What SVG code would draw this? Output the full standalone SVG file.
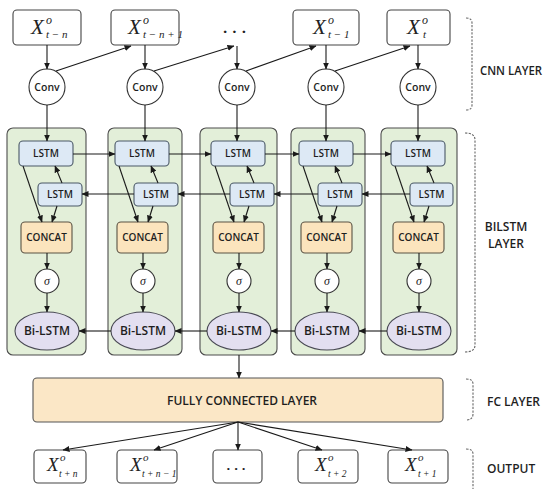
<svg xmlns="http://www.w3.org/2000/svg" width="550" height="489" viewBox="0 0 550 489">
<defs>
<marker id="ah" markerWidth="7" markerHeight="6" refX="6.5" refY="3" orient="auto" markerUnits="userSpaceOnUse">
<path d="M0,0 L7,3 L0,6 Z" fill="#1a1a1a"/>
</marker>
<style>
.box{fill:#fff;stroke:#444;stroke-width:1.1}
.panel{fill:#e3efd9;stroke:#4d4d4d;stroke-width:1.1}
.lstm{fill:#dde9f5;stroke:#4a5866;stroke-width:1.1}
.concat{fill:#fbe4bd;stroke:#5a5244;stroke-width:1.1}
.bi{fill:#e3dff0;stroke:#4a4a55;stroke-width:1.1}
.circ{fill:#fff;stroke:#333;stroke-width:1.1}
.fc{fill:#fbe7c6;stroke:#555;stroke-width:1.1}
.ln{stroke:#1a1a1a;stroke-width:1.1;fill:none;marker-end:url(#ah)}
.br{stroke:#666;stroke-width:1.1;fill:none;stroke-dasharray:2.2 1.4}
.s{font-family:"Open Sans","Liberation Sans",sans-serif;fill:#1e1e1e;text-anchor:middle;font-weight:600}
.lab{font-family:"Open Sans","Liberation Sans",sans-serif;fill:#1e1e1e;font-weight:600;font-size:12px}
.x{font-family:"Liberation Serif","DejaVu Serif",serif;font-style:italic;fill:#222}
</style>
</defs>
<rect width="550" height="489" fill="#fff"/>

<!-- inputs -->
<g id="in1"><rect class="box" x="13" y="10" width="68" height="35" rx="4"/>
<text class="x" x="31" y="34" font-size="21">X</text><text class="x" x="46" y="24" font-size="12">o</text><text class="x" x="46" y="38" font-size="11">t − n</text></g>
<g id="in2"><rect class="box" x="111" y="10" width="68" height="35" rx="4"/>
<text class="x" x="128" y="34" font-size="21">X</text><text class="x" x="143" y="24" font-size="12">o</text><text class="x" x="143" y="38" font-size="11">t − n + 1</text></g>
<g id="in3"><text class="s" x="237" y="33" font-size="15" letter-spacing="5" style="font-weight:700">...</text></g>
<g id="in4"><rect class="box" x="293" y="10" width="66" height="35" rx="4"/>
<text class="x" x="313" y="34" font-size="21">X</text><text class="x" x="328" y="24" font-size="12">o</text><text class="x" x="328" y="38" font-size="11">t − 1</text></g>
<g id="in5"><rect class="box" x="387" y="10" width="63" height="35" rx="4"/>
<text class="x" x="407" y="34" font-size="21">X</text><text class="x" x="422" y="24" font-size="12">o</text><text class="x" x="423" y="38" font-size="11">t</text></g>

<!-- conv -->
<g id="conv1"><circle class="circ" cx="47" cy="87" r="18"/><text class="s" x="47" y="91" font-size="10.5">Conv</text></g>
<g id="conv2"><circle class="circ" cx="145" cy="87" r="18"/><text class="s" x="145" y="91" font-size="10.5">Conv</text></g>
<g id="conv3"><circle class="circ" cx="237" cy="87" r="18"/><text class="s" x="237" y="91" font-size="10.5">Conv</text></g>
<g id="conv4"><circle class="circ" cx="326" cy="87" r="18"/><text class="s" x="326" y="91" font-size="10.5">Conv</text></g>
<g id="conv5"><circle class="circ" cx="418" cy="87" r="18"/><text class="s" x="418" y="91" font-size="10.5">Conv</text></g>

<!-- panels -->
<g id="panel1"><rect class="panel" x="7" y="128" width="79" height="227" rx="6"/></g>
<g id="panel2"><rect class="panel" x="108" y="128" width="74" height="227" rx="6"/></g>
<g id="panel3"><rect class="panel" x="200" y="128" width="77" height="227" rx="6"/></g>
<g id="panel4"><rect class="panel" x="291" y="128" width="74" height="227" rx="6"/></g>
<g id="panel5"><rect class="panel" x="381" y="128" width="76" height="227" rx="6"/></g>

<!-- column 1 c=47 -->
<g id="lstmf1"><rect class="lstm" x="19" y="141" width="54" height="25" rx="4"/><text class="s" x="46" y="157" font-size="10">LSTM</text></g>
<g id="lstmb1"><rect class="lstm" x="38" y="183" width="44" height="23" rx="4"/><text class="s" x="60" y="198" font-size="10">LSTM</text></g>
<g id="concat1"><rect class="concat" x="21" y="222" width="51" height="31" rx="4"/><text class="s" x="46.5" y="241" font-size="10">CONCAT</text></g>
<g id="sig1"><circle class="circ" cx="47" cy="281" r="12"/><text class="x" x="47" y="285" font-size="12" text-anchor="middle">σ</text></g>
<g id="bi1"><ellipse class="bi" cx="47" cy="331" rx="32" ry="19"/><text class="s" x="47" y="335" font-size="12">Bi-LSTM</text></g>

<!-- column 2 c=143 -->
<g id="lstmf2"><rect class="lstm" x="115" y="141" width="54" height="25" rx="4"/><text class="s" x="142" y="157" font-size="10">LSTM</text></g>
<g id="lstmb2"><rect class="lstm" x="134" y="183" width="44" height="23" rx="4"/><text class="s" x="156" y="198" font-size="10">LSTM</text></g>
<g id="concat2"><rect class="concat" x="117" y="222" width="51" height="31" rx="4"/><text class="s" x="142.5" y="241" font-size="10">CONCAT</text></g>
<g id="sig2"><circle class="circ" cx="143" cy="281" r="12"/><text class="x" x="143" y="285" font-size="12" text-anchor="middle">σ</text></g>
<g id="bi2"><ellipse class="bi" cx="143" cy="331" rx="32" ry="19"/><text class="s" x="143" y="335" font-size="12">Bi-LSTM</text></g>

<!-- column 3 c=239 -->
<g id="lstmf3"><rect class="lstm" x="211" y="141" width="54" height="25" rx="4"/><text class="s" x="238" y="157" font-size="10">LSTM</text></g>
<g id="lstmb3"><rect class="lstm" x="230" y="183" width="44" height="23" rx="4"/><text class="s" x="252" y="198" font-size="10">LSTM</text></g>
<g id="concat3"><rect class="concat" x="213" y="222" width="51" height="31" rx="4"/><text class="s" x="238.5" y="241" font-size="10">CONCAT</text></g>
<g id="sig3"><circle class="circ" cx="239" cy="281" r="12"/><text class="x" x="239" y="285" font-size="12" text-anchor="middle">σ</text></g>
<g id="bi3"><ellipse class="bi" cx="239" cy="331" rx="32" ry="19"/><text class="s" x="239" y="335" font-size="12">Bi-LSTM</text></g>

<!-- column 4 c=327 -->
<g id="lstmf4"><rect class="lstm" x="299" y="141" width="54" height="25" rx="4"/><text class="s" x="326" y="157" font-size="10">LSTM</text></g>
<g id="lstmb4"><rect class="lstm" x="318" y="183" width="44" height="23" rx="4"/><text class="s" x="340" y="198" font-size="10">LSTM</text></g>
<g id="concat4"><rect class="concat" x="301" y="222" width="51" height="31" rx="4"/><text class="s" x="326.5" y="241" font-size="10">CONCAT</text></g>
<g id="sig4"><circle class="circ" cx="327" cy="281" r="12"/><text class="x" x="327" y="285" font-size="12" text-anchor="middle">σ</text></g>
<g id="bi4"><ellipse class="bi" cx="327" cy="331" rx="32" ry="19"/><text class="s" x="327" y="335" font-size="12">Bi-LSTM</text></g>

<!-- column 5 c=419 -->
<g id="lstmf5"><rect class="lstm" x="391" y="141" width="54" height="25" rx="4"/><text class="s" x="418" y="157" font-size="10">LSTM</text></g>
<g id="lstmb5"><rect class="lstm" x="410" y="183" width="43" height="23" rx="4"/><text class="s" x="431.5" y="198" font-size="10">LSTM</text></g>
<g id="concat5"><rect class="concat" x="393" y="222" width="51" height="31" rx="4"/><text class="s" x="418.5" y="241" font-size="10">CONCAT</text></g>
<g id="sig5"><circle class="circ" cx="419" cy="281" r="12"/><text class="x" x="419" y="285" font-size="12" text-anchor="middle">σ</text></g>
<g id="bi5"><ellipse class="bi" cx="419" cy="331" rx="32" ry="19"/><text class="s" x="419" y="335" font-size="12">Bi-LSTM</text></g>

<!-- FC -->
<g id="fc"><rect class="fc" x="33" y="378" width="410" height="44" rx="4"/><text class="s" x="242" y="405" font-size="12">FULLY CONNECTED LAYER</text></g>

<!-- outputs -->
<g id="out1"><rect class="box" x="34" y="450" width="52" height="33" rx="4"/>
<text class="x" x="47" y="471" font-size="19">X</text><text class="x" x="60" y="461" font-size="11">o</text><text class="x" x="59" y="477" font-size="9.5">t + n</text></g>
<g id="out2"><rect class="box" x="117" y="450" width="60" height="33" rx="4"/>
<text class="x" x="130" y="471" font-size="19">X</text><text class="x" x="143" y="461" font-size="11">o</text><text class="x" x="142" y="477" font-size="9.5">t + n − 1</text></g>
<g id="out3"><rect class="box" x="213" y="450" width="49" height="33" rx="4"/>
<text class="s" x="238" y="470" font-size="13" letter-spacing="4" style="font-weight:700">...</text></g>
<g id="out4"><rect class="box" x="298" y="450" width="60" height="33" rx="4"/>
<text class="x" x="315" y="471" font-size="19">X</text><text class="x" x="328" y="461" font-size="11">o</text><text class="x" x="328" y="477" font-size="9.5">t + 2</text></g>
<g id="out5"><rect class="box" x="388" y="450" width="60" height="33" rx="4"/>
<text class="x" x="405" y="471" font-size="19">X</text><text class="x" x="418" y="461" font-size="11">o</text><text class="x" x="418" y="477" font-size="9.5">t + 1</text></g>

<!-- layer labels -->
<g id="brackets">
<path class="br" d="M466,18 Q472,18 472,23 L472,105 Q472,110 466,110"/>
<path class="br" d="M465,133 Q475,133 475,140 L475,345 Q475,352 465,352"/>
<path class="br" d="M466,379 Q473,379 473,384 L473,414 Q473,420 466,420"/>
<path class="br" d="M466,449 Q473,449 473,454 L473,489"/>
</g>
<g id="labels">
<text class="lab" x="480" y="75" textLength="62" lengthAdjust="spacingAndGlyphs">CNN LAYER</text>
<text class="lab" x="506" y="231" text-anchor="middle">BILSTM</text>
<text class="lab" x="506" y="248" text-anchor="middle">LAYER</text>
<text class="lab" x="487" y="406">FC LAYER</text>
<text class="lab" x="487" y="473">OUTPUT</text>
</g>

<!-- connectors -->
<g id="connectors">
<line class="ln" x1="47" y1="45" x2="47" y2="69"/>
<line class="ln" x1="145" y1="45" x2="145" y2="69"/>
<line class="ln" x1="237" y1="46" x2="237" y2="69"/>
<line class="ln" x1="326" y1="45" x2="326" y2="69"/>
<line class="ln" x1="418" y1="45" x2="418" y2="69"/>
<line class="ln" x1="56" y1="71" x2="131" y2="46"/>
<line class="ln" x1="154" y1="71" x2="234" y2="46"/>
<line class="ln" x1="246" y1="71" x2="316" y2="46"/>
<line class="ln" x1="335" y1="71" x2="410" y2="46"/>
<line class="ln" x1="47" y1="105" x2="47" y2="141"/>
<line class="ln" x1="145" y1="105" x2="145" y2="141"/>
<line class="ln" x1="237" y1="105" x2="237" y2="141"/>
<line class="ln" x1="326" y1="105" x2="326" y2="141"/>
<line class="ln" x1="418" y1="105" x2="418" y2="141"/>
<line class="ln" x1="73" y1="154" x2="115" y2="154"/>
<line class="ln" x1="169" y1="154" x2="211" y2="154"/>
<line class="ln" x1="265" y1="154" x2="299" y2="154"/>
<line class="ln" x1="353" y1="154" x2="391" y2="154"/>
<line class="ln" x1="134" y1="194" x2="82" y2="194"/>
<line class="ln" x1="230" y1="194" x2="178" y2="194"/>
<line class="ln" x1="318" y1="194" x2="274" y2="194"/>
<line class="ln" x1="410" y1="194" x2="362" y2="194"/>
<line class="ln" x1="111" y1="331" x2="79" y2="331"/>
<line class="ln" x1="207" y1="331" x2="175" y2="331"/>
<line class="ln" x1="295" y1="331" x2="271" y2="331"/>
<line class="ln" x1="387" y1="331" x2="359" y2="331"/>
<line class="ln" x1="23" y1="166" x2="42" y2="222"/>
<line class="ln" x1="62" y1="183" x2="55" y2="166"/>
<line class="ln" x1="57" y1="206" x2="52" y2="222"/>
<line class="ln" x1="119" y1="166" x2="138" y2="222"/>
<line class="ln" x1="158" y1="183" x2="151" y2="166"/>
<line class="ln" x1="153" y1="206" x2="148" y2="222"/>
<line class="ln" x1="215" y1="166" x2="234" y2="222"/>
<line class="ln" x1="254" y1="183" x2="247" y2="166"/>
<line class="ln" x1="249" y1="206" x2="244" y2="222"/>
<line class="ln" x1="303" y1="166" x2="322" y2="222"/>
<line class="ln" x1="342" y1="183" x2="335" y2="166"/>
<line class="ln" x1="337" y1="206" x2="332" y2="222"/>
<line class="ln" x1="395" y1="166" x2="414" y2="222"/>
<line class="ln" x1="434" y1="183" x2="427" y2="166"/>
<line class="ln" x1="429" y1="206" x2="424" y2="222"/>
<line class="ln" x1="47" y1="253" x2="47" y2="269"/>
<line class="ln" x1="143" y1="253" x2="143" y2="269"/>
<line class="ln" x1="239" y1="253" x2="239" y2="269"/>
<line class="ln" x1="327" y1="253" x2="327" y2="269"/>
<line class="ln" x1="419" y1="253" x2="419" y2="269"/>
<line class="ln" x1="47" y1="293" x2="47" y2="312"/>
<line class="ln" x1="143" y1="293" x2="143" y2="312"/>
<line class="ln" x1="239" y1="293" x2="239" y2="312"/>
<line class="ln" x1="327" y1="293" x2="327" y2="312"/>
<line class="ln" x1="419" y1="293" x2="419" y2="312"/>
<line class="ln" x1="239" y1="355" x2="239" y2="378"/>
<line class="ln" x1="238" y1="422" x2="63" y2="450"/>
<line class="ln" x1="238" y1="422" x2="154" y2="450"/>
<line class="ln" x1="238" y1="422" x2="238" y2="450"/>
<line class="ln" x1="238" y1="422" x2="322" y2="450"/>
<line class="ln" x1="238" y1="422" x2="412" y2="450"/>
</g>
</svg>
